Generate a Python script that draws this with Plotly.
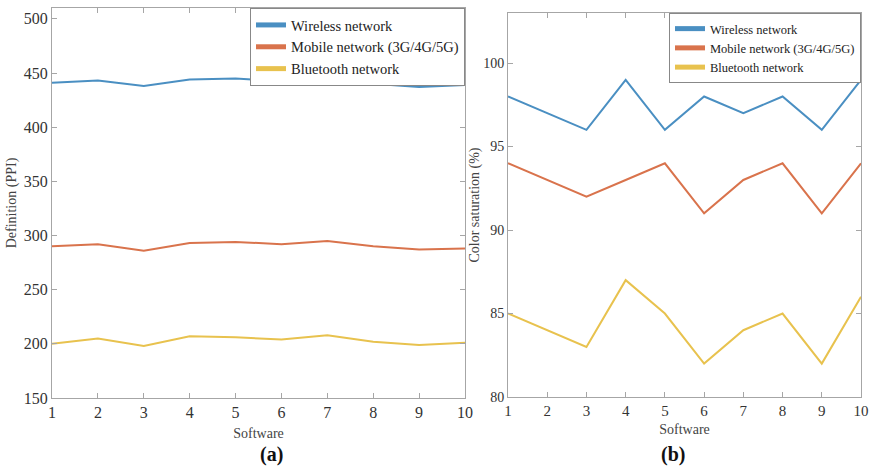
import plotly.graph_objects as go

software = [1, 2, 3, 4, 5, 6, 7, 8, 9, 10]

# Panel (a): Definition (PPI)
def_wireless = [441, 443, 438, 444, 445, 442, 445, 440, 437, 439]
def_mobile = [290, 292, 286, 293, 294, 292, 295, 290, 287, 288]
def_bluetooth = [200, 205, 198, 207, 206, 204, 208, 202, 199, 201]

# Panel (b): Color saturation (%)
sat_wireless = [98, 97, 96, 99, 96, 98, 97, 98, 96, 99]
sat_mobile = [94, 93, 92, 93, 94, 91, 93, 94, 91, 94]
sat_bluetooth = [85, 84, 83, 87, 85, 82, 84, 85, 82, 86]

names = ["Wireless network", "Mobile network (3G/4G/5G)", "Bluetooth network"]
colors = ["#4a8fc2", "#d9734c", "#e8c24e"]

FONT = '"Liberation Serif", "Times New Roman", Times, serif'

fig = go.Figure()

for vals, name, col in zip([def_wireless, def_mobile, def_bluetooth], names, colors):
    fig.add_trace(go.Scatter(x=software, y=vals, mode="lines", name=name,
                             line=dict(color=col, width=2), xaxis="x", yaxis="y",
                             legend="legend"))
for vals, name, col in zip([sat_wireless, sat_mobile, sat_bluetooth], names, colors):
    fig.add_trace(go.Scatter(x=software, y=vals, mode="lines", name=name,
                             line=dict(color=col, width=2), xaxis="x2", yaxis="y2",
                             legend="legend2"))

W, H = 870, 470
def px(v):
    return v / W
def py(v):
    return 1 - v / H

def axis_style(size):
    return dict(showline=True, linecolor="#a6a6a6", linewidth=1, mirror="ticks",
                ticks="inside", ticklen=5, tickcolor="#a6a6a6", showgrid=False,
                zeroline=False, automargin=False, ticklabeloverflow="allow",
                tickfont=dict(family=FONT, size=size, color="#333333"))

title_font = dict(family=FONT, size=14, color="#444444")

fig.update_layout(
    width=W, height=H,
    margin=dict(l=0, r=0, t=0, b=0),
    paper_bgcolor="white", plot_bgcolor="white",
    font=dict(family=FONT, color="#333333"),
    xaxis=dict(domain=[px(52), px(465)], range=[1, 10], tickvals=software,
               anchor="y", **axis_style(16),
               title=dict(text="Software", font=title_font, standoff=7)),
    yaxis=dict(domain=[py(398), py(8)], range=[150, 510], tickvals=[150, 200, 250, 300, 350, 400, 450, 500],
               anchor="x", **axis_style(16),
               title=dict(text="Definition (PPI)", font=title_font, standoff=3)),
    xaxis2=dict(domain=[px(508), px(861)], range=[1, 10], tickvals=software,
                anchor="y2", **axis_style(15),
                title=dict(text="Software", font=title_font, standoff=6)),
    yaxis2=dict(domain=[py(397), py(13)], range=[80, 103], tickvals=[80, 85, 90, 95, 100],
                anchor="x2", **axis_style(14),
                title=dict(text="Color saturation (%)", font=title_font, standoff=0)),
    legend=dict(x=px(465), y=py(8), xanchor="right", yanchor="top",
                bgcolor="white", bordercolor="#888888", borderwidth=1,
                font=dict(family=FONT, size=14.5, color="#222222"),
                tracegroupgap=0, itemwidth=30, itemsizing="constant"),
    legend2=dict(x=px(861), y=py(13), xanchor="right", yanchor="top",
                 bgcolor="white", bordercolor="#888888", borderwidth=1,
                 font=dict(family=FONT, size=12.5, color="#222222"),
                 tracegroupgap=0, itemwidth=30, itemsizing="constant"),
    showlegend=True,
    annotations=[
        dict(text="<b>(a)</b>", x=px(258), y=py(468), xref="paper", yref="paper",
             showarrow=False, font=dict(family=FONT, size=20, color="#111111"), yanchor="bottom"),
        dict(text="<b>(b)</b>", x=px(687), y=py(468), xref="paper", yref="paper",
             showarrow=False, font=dict(family=FONT, size=20, color="#111111"), yanchor="bottom"),
    ],
)

fig.write_html("out.html")
